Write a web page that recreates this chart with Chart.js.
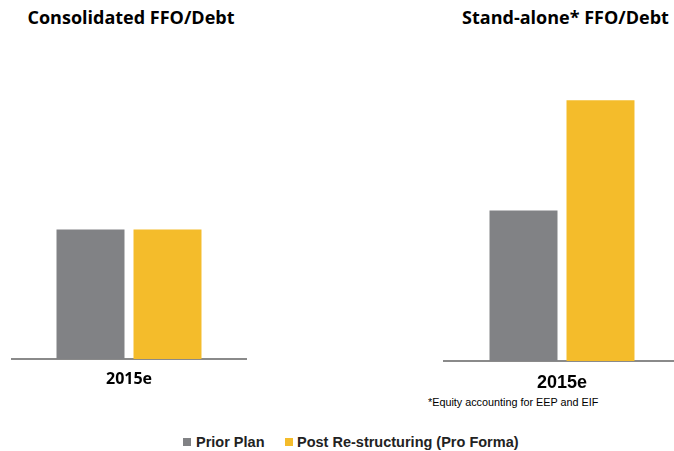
<!DOCTYPE html>
<html>
<head>
<meta charset="utf-8">
<script src="https://cdn.jsdelivr.net/npm/chart.js@4/dist/chart.umd.min.js"></script>
<style>
  html, body { margin:0; padding:0; background:#fff; width:674px; height:451px; overflow:hidden; }
  body { position:relative; }
  .title { position:absolute; font-family:"Open Sans", sans-serif; font-weight:700; font-size:18px; line-height:18px; color:#000; text-align:center; white-space:nowrap; }
  canvas { position:absolute; }
  .foot { position:absolute; left:428px; top:397px; font-family:"Liberation Sans", Arial, sans-serif; font-size:10.8px; line-height:10.8px; color:#000; white-space:nowrap; }
  .legend { position:absolute; top:435px; font-family:"Liberation Sans", Arial, sans-serif; font-weight:700; font-size:14.5px; line-height:14.5px; color:#222; white-space:nowrap; }
  .sw { position:absolute; width:8px; height:8px; }
</style>
</head>
<body>
<div class="title" id="t1" style="left:0px; width:262px; top:8px;"></div>
<div class="title" id="t2" style="left:431px; width:269px; top:8px;"></div>
<canvas id="c1" width="236" height="349" style="left:11px; top:40px;"></canvas>
<canvas id="c2" width="238" height="351" style="left:443px; top:40px;"></canvas>
<div class="foot" id="foot"></div>
<div class="sw" style="left:183px; top:438px; background:#818285;"></div>
<div class="legend" id="l1" style="left:196px;"></div>
<div class="sw" style="left:285px; top:438px; background:#F4BC2B;"></div>
<div class="legend" id="l2" style="left:297px;"></div>
<script>
const categories = ["2015e"];
const seriesNames = ["Prior Plan", "Post Re-structuring (Pro Forma)"];
const consolidatedPrior = [13];
const consolidatedPost = [13];
const standalonePrior = [15];
const standalonePost = [26];
const panelTitles = ["Consolidated FFO/Debt", "Stand-alone* FFO/Debt"];
const footnote = "*Equity accounting for EEP and EIF";
const yMax = 32;

document.getElementById('t1').textContent = panelTitles[0];
document.getElementById('t2').textContent = panelTitles[1];
document.getElementById('foot').textContent = footnote;
document.getElementById('l1').textContent = seriesNames[0];
document.getElementById('l2').textContent = seriesNames[1];

const GREY = '#818285', YELLOW = '#F4BC2B';

function makeChart(id, prior, post, tickFont, tickColor, catPct) {
  return new Chart(document.getElementById(id), {
    type: 'bar',
    data: {
      labels: categories,
      datasets: [
        { label: seriesNames[0], data: prior, backgroundColor: GREY, borderWidth: 0 },
        { label: seriesNames[1], data: post, backgroundColor: YELLOW, borderWidth: 0 }
      ]
    },
    options: {
      responsive: false,
      maintainAspectRatio: false,
      animation: false,
      layout: { padding: 0 },
      datasets: { bar: { categoryPercentage: catPct, barPercentage: 0.883 } },
      plugins: { legend: { display: false }, title: { display: false }, tooltip: { enabled: false } },
      scales: {
        x: {
          grid: { display: false, drawTicks: false },
          border: { display: true, color: '#8a8a8a', width: 2 },
          ticks: { font: tickFont, color: tickColor, padding: 11 },
          afterFit: (axis) => { axis.height = 30; }
        },
        y: { display: false, min: 0, max: yMax }
      }
    }
  });
}

makeChart('c1', consolidatedPrior, consolidatedPost, { family: 'Open Sans', weight: 'bold', size: 16 }, '#000', 0.6525);
makeChart('c2', standalonePrior, standalonePost, { family: 'Liberation Sans', weight: 'bold', size: 18 }, '#000', 0.647);
</script>
</body>
</html>
